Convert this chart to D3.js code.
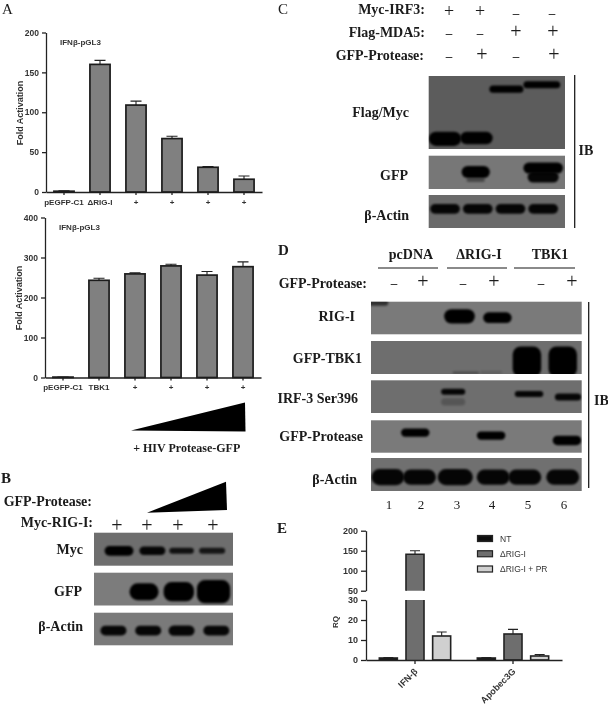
<!DOCTYPE html>
<html><head><meta charset="utf-8">
<script src="https://cdn.jsdelivr.net/npm/d3@7"></script>
<style>
html,body{margin:0;padding:0;background:#fff}
svg{display:block}
text{font-family:"Liberation Serif",serif;font-weight:bold;fill:#1a1a1a}
.sans text,text.sans{font-family:"Liberation Sans",Arial,sans-serif;fill:#333}
</style></head><body>
<svg id="fig" width="608" height="728"></svg>
<script>
// ---------- chart data ----------
const labelsA1 = ["pEGFP-C1","\u0394RIG-I","+","+","+","+"];
const valuesA1 = [1,160,109,67,31,16];
const errorsA1 = [0.5,5,5,3,1,4];
const labelsA2 = ["pEGFP-C1","TBK1","+","+","+","+"];
const valuesA2 = [1,243,259,279,256,277];
const errorsA2 = [0.3,5,3,4,9,12];
const ticksA1 = [0,50,100,150,200];
const ticksA2 = [0,100,200,300,400];
const genesE = ["IFN-\u03b2","Apobec3G"];
const seriesE = ["NT","\u0394RIG-I","\u0394RIG-I + PR"];
const ntE = [1,1];
const rigE = [141,13];
const prE = [12,2];
const ntErrE = [0.2,0.2];
const rigErrE = [9,2.3];
const prErrE = [2,0.7];
const ticksELow = [0,10,20,30];
const ticksEHigh = [50,100,150,200];

// blot bands: [lane position %, migration %, band width %, band thickness %, darkness 0-1]
const bMyc = [[18,55,20,24,1],[42,55,18,21,.95],[63,55,17,15,.85],[85,55,18,15,.8]];
const bGfp = [[36,58,20,42,1],[61,58,21,48,1],[86,58,23,58,1]];
const bActin = [[14,55,18,24,.95],[39,55,18,24,.95],[63,55,18,26,.95],[88,55,18,24,.95]];
const cFlag = [[12,86,23,16,1],[35,85,23,14,1],[57,18,24,8,1],[83,12,26,8,1]];
const cGfp = [[34.5,49,20,30,1],[34.5,73,13,10,.4],[84,37,28,27,1],[84,64,22,27,.95]];
const cActin = [[12,42,21,24,.95],[36,42,21,24,.95],[60,42,21,24,.95],[84,42,21,24,.95]];
const dRig = [[3,3,10,15,.6],[42,45,14,36,1],[60,49,13,27,1]];
const dTbk = [[74,63,13,76,1],[91,63,13,76,1],[45,96,12,6,.3],[57,95,10,8,.12]];
const dIrf = [[39,35,11,15,.95],[39,66,11,18,.22],[75,42,13,15,.95],[93.5,51,12,18,.95]];
const dPro = [[21,38,13,21,1],[57,47,13,21,1],[93,62,13,24,1]];
const dActin = [[8,58,15,40,.95],[23,58,15,38,.95],[40,58,16,40,.95],[58,58,15,38,.95],[73,58,15,38,.95],[91,58,15,38,.95]];

const signsB = ["+","+","+","+"];
const signsCIrf = ["+","+","-","-"];
const signsCMda = ["-","-","+","+"];
const signsCPro = ["-","+","-","+"];
const signsD = ["-","+","-","+","-","+"];
const laneNames = ["1","2","3","4","5","6"];

// ---------- setup ----------
const svg = d3.select("#fig");
const defs = svg.append("defs");
const mkBlur = (id,s)=>defs.append("filter").attr("id",id).attr("filterUnits","userSpaceOnUse")
  .attr("x",0).attr("y",0).attr("width",608).attr("height",728)
  .append("feGaussianBlur").attr("stdDeviation",s);
mkBlur("soft",0.4); mkBlur("band",0.8);
const root = svg.append("g").attr("filter","url(#soft)");

function txt(x,y,s,o={}){
  return root.append("text").attr("x",x).attr("y",y).attr("dominant-baseline","central")
    .attr("text-anchor",o.a||"end").style("font-size",(o.size||14)+"px")
    .style("font-weight",o.w||"bold").text(s);
}

// ---------- bar charts (panel A) ----------
function barChart(o){
  const g = root.append("g").attr("class","sans");
  const x = d3.scaleBand().domain(d3.range(o.values.length)).range(o.xr);
  const y = d3.scaleLinear().domain([0,o.max]).range(o.yr);
  const w = x.bandwidth()*0.56;
  const cx = i=>x(i)+x.bandwidth()/2;
  const xa = g.append("g").attr("transform",`translate(0,${o.yr[0]})`)
    .call(d3.axisBottom(x).tickFormat(i=>o.labels[i]).tickSize(3).tickSizeOuter(0));
  const ya = g.append("g").attr("transform",`translate(${o.xr[0]},0)`)
    .call(d3.axisLeft(y).tickValues(o.ticks).tickSize(4).tickSizeOuter(0));
  [xa,ya].forEach(a=>{a.selectAll("path,line").attr("stroke","#222").attr("stroke-width",1.3);
    a.selectAll("text").style("font-size","8px").style("font-weight","bold").attr("fill","#333");});
  xa.selectAll("text").attr("dy","0.85em");
  ya.selectAll("text").style("font-size","8.5px");
  g.selectAll(".err").data(o.values).join("path").attr("fill","none").attr("stroke","#222").attr("stroke-width",1.1)
    .attr("d",(d,i)=>{const t=y(d+o.errors[i]);return `M${cx(i)},${y(d)}V${t}M${cx(i)-5.5},${t}H${cx(i)+5.5}`;});
  g.selectAll(".bar").data(o.values).join("rect")
    .attr("x",(d,i)=>cx(i)-w/2).attr("width",w).attr("y",d=>y(d)).attr("height",d=>y(0)-y(d))
    .attr("fill","#808080").attr("stroke","#1c1c1c").attr("stroke-width",1.7);
  g.append("text").attr("class","sans").attr("x",o.xr[0]+14).attr("y",o.titleY).attr("dominant-baseline","central")
    .style("font-size","8px").text("IFN\u03b2-pGL3");
  g.append("text").attr("class","sans").attr("transform",`translate(${o.ylx},${o.yly}) rotate(-90)`)
    .attr("text-anchor","middle").attr("dominant-baseline","central").style("font-size","9px").text("Fold Activation");
}
barChart({values:valuesA1,errors:errorsA1,labels:labelsA1,ticks:ticksA1,max:200,xr:[46,262],yr:[192,32.5],titleY:42,ylx:20,yly:113});
barChart({values:valuesA2,errors:errorsA2,labels:labelsA2,ticks:ticksA2,max:400,xr:[45,261],yr:[377.5,217.5],titleY:227,ylx:19,yly:298});

// wedges
const wedge = d3.line();
root.append("path").attr("d",wedge([[131,430.5],[245,402.5],[245.5,431.5]])+"Z").attr("fill","#000");
root.append("path").attr("d",wedge([[147,512.7],[226,481.7],[227,510]])+"Z").attr("fill","#000");
txt(186.7,448,"+ HIV Protease-GFP",{a:"middle",size:12});

// ---------- blots ----------
const blots = svg.append("g");
function blot(x0,x1,y0,y1,fill,bands){
  const g = blots.append("g");
  const clipId = "c"+x0.toFixed(0)+"_"+y0.toFixed(0);
  defs.append("clipPath").attr("id",clipId).append("rect").attr("x",x0).attr("y",y0).attr("width",x1-x0).attr("height",y1-y0);
  g.append("rect").attr("x",x0).attr("y",y0).attr("width",x1-x0).attr("height",y1-y0).attr("fill",fill).attr("filter","url(#soft)");
  const sx = d3.scaleLinear().domain([0,100]).range([x0,x1]);
  const sy = d3.scaleLinear().domain([0,100]).range([y0,y1]);
  const sw = d3.scaleLinear().domain([0,100]).range([0,(x1-x0)*1.04]);
  const sh = d3.scaleLinear().domain([0,100]).range([0,(y1-y0)*1.22]);
  g.append("g").attr("clip-path",`url(#${clipId})`).selectAll("rect").data(bands).join("rect")
    .attr("x",d=>sx(d[0])-sw(d[2])/2).attr("y",d=>sy(d[1])-sh(d[3])/2)
    .attr("width",d=>sw(d[2])).attr("height",d=>sh(d[3]))
    .attr("rx",d=>Math.min(8,sh(d[3])/2)).attr("ry",d=>Math.min(8,sh(d[3])/2))
    .attr("fill","#060606").attr("opacity",d=>d[4]).attr("filter","url(#band)");
}
// panel B
blot(94,233,532.7,565.7,"#6e6e6e",bMyc);
blot(94,233,572.7,605.5,"#7c7c7c",bGfp);
blot(94,233,612.7,645.3,"#7a7a7a",bActin);
// panel C
blot(428.7,565,76,149,"#5c5c5c",cFlag);
blot(428.7,565,155.7,189,"#777777",cGfp);
blot(428.7,565,195,228,"#6a6a6a",cActin);
// panel D
blot(371,581.7,301.7,334.3,"#7a7a7a",dRig);
blot(371,581.7,341,374,"#6e6e6e",dTbk);
blot(371,581.7,380.3,413,"#6e6e6e",dIrf);
blot(371,581.7,420.3,452.7,"#7a7a7a",dPro);
blot(371,581.7,458,491,"#707070",dActin);

// ---------- panel letters ----------
[["A",2,9],["B",1,478],["C",278,9],["D",278,250],["E",277,528]].forEach(d=>{
  txt(d[1],d[2],d[0],{a:"start",size:15,w:d[0]==="A"||d[0]==="C"?"normal":"bold"});
});

// sign columns
function signs(list,xs,y,size=20){
  list.forEach((s,i)=>{
    txt(xs[i],s==="+"?y:y+1,s==="+"?"+":"\u2013",{a:"middle",size:s==="+"?size:13,w:s==="+"?"normal":"bold"});
  });
}

// panel B text
txt(92,501,"GFP-Protease:");
txt(93,522,"Myc-RIG-I:");
signs(signsB,[117,147,178,213],525);
txt(83,549,"Myc"); txt(82,591,"GFP"); txt(83,626,"\u03b2-Actin");

// panel C text
txt(425,9,"Myc-IRF3:"); txt(425,32,"Flag-MDA5:"); txt(424,55,"GFP-Protease:");
signs(signsCIrf,[449,480,516,552],11,18);
signs(signsCMda,[449,480,516,553],31);
signs(signsCPro,[449,482,516,554],54);
txt(409,112,"Flag/Myc"); txt(408,175,"GFP"); txt(409,215,"\u03b2-Actin");
txt(586,150,"IB",{a:"middle"});
const rule=(x1,y1,x2,y2,w=1.2)=>root.append("line").attr("x1",x1).attr("y1",y1).attr("x2",x2).attr("y2",y2).attr("stroke","#111").attr("stroke-width",w);
rule(574.7,75,574.7,228);

// panel D text
txt(411,254,"pcDNA",{a:"middle"}); txt(479,254,"\u0394RIG-I",{a:"middle"}); txt(550,254,"TBK1",{a:"middle"});
rule(378,268,438,268); rule(447,268,507,268); rule(514,268,575,268);
txt(367,283,"GFP-Protease:");
signs(signsD,[394,423,463,494,541,572],281);
txt(355,316,"RIG-I"); txt(362,358,"GFP-TBK1"); txt(358,398,"IRF-3 Ser396"); txt(363,436,"GFP-Protease"); txt(357,479,"\u03b2-Actin");
rule(588.7,302,588.7,488);
txt(594,400,"IB",{a:"start"});
laneNames.forEach((s,i)=>txt([389,421,457,492,528,564][i],504,s,{a:"middle",size:13,w:"normal"}));

// ---------- panel E ----------
{
  const g = root.append("g").attr("class","sans");
  const x0 = d3.scaleBand().domain(genesE).range([366,562]);
  const x1 = d3.scaleBand().domain(seriesE).range([-40,40]);
  const yLow = d3.scaleLinear().domain([0,30]).range([660,600]);
  const yHigh = d3.scaleLinear().domain([50,200]).range([590.7,530.7]);
  const vals = [ntE,rigE,prE], errs=[ntErrE,rigErrE,prErrE];
  const fills = ["#111111","#6e6e6e","#d0d0d0"];
  const w = 18;
  const Y = v=>v>30?yHigh(v):yLow(v);
  seriesE.forEach((s,si)=>genesE.forEach((gene,gi)=>{
    const v=vals[si][gi], e=errs[si][gi];
    const c=x0(gene)+x0.bandwidth()/2+x1(s)+x1.bandwidth()/2;
    const top=Y(v+e);
    g.append("path").attr("fill","none").attr("stroke","#222").attr("stroke-width",1.1)
      .attr("d",`M${c},${Y(v)}V${top}M${c-5},${top}H${c+5}`);
    if(v>30){
      g.append("path").attr("fill",fills[si]).attr("d",`M${c-w/2},660V600H${c+w/2}V660ZM${c-w/2},590.7V${Y(v)}H${c+w/2}V590.7Z`);
      g.append("path").attr("fill","none").attr("stroke","#222").attr("stroke-width",1.6)
        .attr("d",`M${c-w/2},660V600M${c+w/2},600V660M${c-w/2},590.7V${Y(v)}H${c+w/2}V590.7`);
    } else {
      g.append("rect").attr("x",c-w/2).attr("width",w).attr("y",Y(v)).attr("height",660-Y(v))
        .attr("fill",fills[si]).attr("stroke","#222").attr("stroke-width",1.6);
    }
  }));
  const style=a=>{a.selectAll("path,line").attr("stroke","#222").attr("stroke-width",1.3);
    a.selectAll("text").style("font-size","9px").style("font-weight","bold").attr("fill","#333");};
  style(g.append("g").attr("transform","translate(366,0)").call(d3.axisLeft(yLow).tickValues(ticksELow).tickSize(5).tickSizeOuter(0)));
  style(g.append("g").attr("transform","translate(366,0)").call(d3.axisLeft(yHigh).tickValues(ticksEHigh).tickSize(5).tickSizeOuter(0)));
  const xa=g.append("g").attr("transform","translate(0,660)").call(d3.axisBottom(x0).tickFormat("").tickSize(4).tickSizeOuter(0));
  xa.selectAll("path,line").attr("stroke","#222").attr("stroke-width",1.3);
  genesE.forEach(gene=>{
    g.append("text").attr("transform",`translate(${x0(gene)+x0.bandwidth()/2+1},670) rotate(-45)`)
      .attr("text-anchor","end").attr("dominant-baseline","central").style("font-size","9px").style("font-weight","bold").text(gene);
  });
  g.append("text").attr("transform","translate(335,622) rotate(-90)").attr("text-anchor","middle")
    .attr("dominant-baseline","central").style("font-size","8px").text("RQ");
  const ly=d3.scalePoint().domain(seriesE).range([538.5,569]);
  seriesE.forEach((s,i)=>{
    g.append("rect").attr("x",477.5).attr("y",ly(s)-3).attr("width",15).attr("height",6).attr("fill",fills[i]).attr("stroke","#222").attr("stroke-width",1.2);
    g.append("text").attr("x",500).attr("y",ly(s)).attr("dominant-baseline","central").style("font-size","8.5px").style("font-weight","normal").text(s);
  });
}
</script>
</body></html>
